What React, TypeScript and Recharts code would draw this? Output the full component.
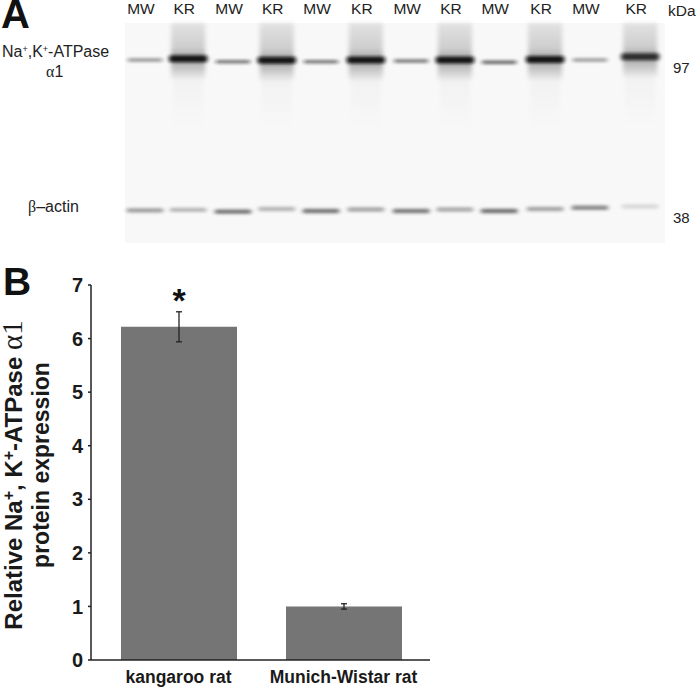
import {
  Bar,
  BarChart,
  CartesianGrid,
  ErrorBar,
  LabelList,
  Scatter,
  ScatterChart,
  XAxis,
  YAxis,
} from 'recharts'

const laneLabels = ['MW', 'KR', 'MW', 'KR', 'MW', 'KR', 'MW', 'KR', 'MW', 'KR', 'MW', 'KR']
const lanePositions = [0.37, 1.17, 2.0, 2.81, 3.63, 4.46, 5.3, 6.11, 6.93, 7.78, 8.61, 9.54]
const alphaMasses = [97, 97.8, 95.9, 96.8, 95.9, 97, 96.4, 97, 95.6, 97.2, 97, 98.9]
const alphaDensity = [0.42, 0.95, 0.55, 0.95, 0.55, 0.95, 0.55, 0.95, 0.62, 0.95, 0.4, 0.8]
const actinMasses = [37.9, 38, 37.6, 38.2, 37.75, 38.1, 37.75, 38.1, 37.75, 38.2, 38.5, 38.8]
const actinDensity = [0.42, 0.3, 0.62, 0.3, 0.6, 0.38, 0.58, 0.36, 0.62, 0.38, 0.52, 0.14]
const massTicks = [97, 38]

const strains = ['kangaroo rat', 'Munich-Wistar rat']
const expression = [6.22, 1.0]
const expressionError = [0.28, 0.05]
const significance = ['*', '']
const expressionTicks = [0, 1, 2, 3, 4, 5, 6, 7]

const ARIAL = '"Liberation Sans", Arial, sans-serif'
const SERIF = '"Liberation Serif", serif'

const blotRows = (masses: number[], density: number[]) =>
  lanePositions.map((lane, i) => ({
    lane,
    mass: masses[i],
    density: density[i],
    label: laneLabels[i],
  }))

const barRows = strains.map((strain, i) => ({
  strain,
  mean: expression[i],
  err: expressionError[i],
  mark: significance[i],
}))

function AlphaBand({ cx, cy, payload }: any) {
  const kr = payload.label === 'KR'
  const w = kr ? 19 : 17.5
  return (
    <g>
      {kr && (
        <>
          <rect x={cx - 17} y={23} width={34} height={cy - 23} fill="url(#smearUp)" filter="url(#soft)" />
          <rect x={cx - 17} y={cy} width={34} height={20} fill="url(#smearDown)" filter="url(#soft)" />
          <rect x={cx - 15} y={cy + 20} width={30} height={50} fill="url(#smearTail)" filter="url(#soft)" />
        </>
      )}
      <rect x={cx - w} y={cy - (kr ? 3.5 : 1.8)} width={2 * w} height={kr ? 7 : 3.6} rx={2} fill="#111" opacity={payload.density} filter="url(#band)" />
    </g>
  )
}

function ActinBand({ cx, cy, payload }: any) {
  return <rect x={cx - 18.5} y={cy - 2.2} width={37} height={4.4} rx={2} fill="#222" opacity={payload.density} filter="url(#band)" />
}

function LaneTick({ x, index }: any) {
  return (
    <text x={x - 4} y={14} textAnchor="middle" fontFamily={ARIAL} fontSize={15.5} fill="#222">
      {laneLabels[index]}
    </text>
  )
}

function MassTick({ x, y, payload }: any) {
  return (
    <text x={x} y={y + 13.5} fontFamily={ARIAL} fontSize={15} fill="#222">
      {payload.value}
    </text>
  )
}

function ExpressionLabel() {
  return (
    <text transform="translate(0 215) rotate(-90)" textAnchor="middle" fontFamily={ARIAL} fontWeight="bold" fill="#1a1a1a">
      <tspan x={0} y={21.7} fontSize={24}>
        Relative Na<tspan fontSize={16} dy={-8}>+</tspan>
        <tspan dy={8}>, K</tspan>
        <tspan fontSize={16} dy={-8}>+</tspan>
        <tspan dy={8}>-ATPase </tspan>
        <tspan fontFamily={SERIF} fontWeight="normal" fontSize={29}>α1</tspan>
      </tspan>
      <tspan x={10} y={48.5} fontSize={23}>protein expression</tspan>
    </text>
  )
}

function Mark({ x, y, width, value }: any) {
  return (
    <text x={x + width / 2} y={y - 15} textAnchor="middle" fontFamily={ARIAL} fontSize={34} fontWeight="bold" fill="#111">
      {value}
    </text>
  )
}

function Note({ left, top, size, bold, children, lineHeight = 1 }: any) {
  return (
    <div
      style={{
        position: 'absolute',
        left,
        top,
        fontFamily: ARIAL,
        fontSize: size,
        fontWeight: bold ? 'bold' : 'normal',
        lineHeight,
        color: bold ? '#111' : '#222',
        whiteSpace: 'nowrap',
      }}
    >
      {children}
    </div>
  )
}

const sup = { fontSize: 9, verticalAlign: 5, lineHeight: 0 }

export default function App() {
  return (
    <div style={{ position: 'absolute', left: 0, top: 0, width: 696, height: 687, background: '#fff', overflow: 'hidden' }}>
      <div style={{ position: 'absolute', left: 0, top: 0 }}>
        <ScatterChart width={696} height={250} margin={{ top: 0, right: 0, bottom: 7, left: 125 }}>
          <defs>
            <filter id="band" x="-20%" y="-200%" width="140%" height="500%">
              <feGaussianBlur stdDeviation="2 1.7" />
            </filter>
            <filter id="soft" x="-20%" y="-20%" width="140%" height="140%">
              <feGaussianBlur stdDeviation="2" />
            </filter>
            <linearGradient id="smearUp" x1="0" y1="0" x2="0" y2="1">
              <stop offset="0" stopColor="#000" stopOpacity={0.09} />
              <stop offset="0.7" stopColor="#000" stopOpacity={0.17} />
              <stop offset="1" stopColor="#000" stopOpacity={0.34} />
            </linearGradient>
            <linearGradient id="smearDown" x1="0" y1="0" x2="0" y2="1">
              <stop offset="0" stopColor="#000" stopOpacity={0.34} />
              <stop offset="1" stopColor="#000" stopOpacity={0.05} />
            </linearGradient>
            <linearGradient id="smearTail" x1="0" y1="0" x2="0" y2="1">
              <stop offset="0" stopColor="#000" stopOpacity={0.025} />
              <stop offset="1" stopColor="#000" stopOpacity={0} />
            </linearGradient>
          </defs>
          <CartesianGrid horizontal={false} vertical={false} fill="#f8f8f8" stroke="none" />
          <XAxis
            type="number"
            dataKey="lane"
            orientation="top"
            domain={[0, 10]}
            ticks={lanePositions}
            interval={0}
            height={23}
            axisLine={false}
            tickLine={false}
            tick={<LaneTick />}
          />
          <YAxis
            type="number"
            dataKey="mass"
            orientation="right"
            scale="log"
            domain={[30.9, 122.2]}
            ticks={massTicks}
            interval={0}
            width={31}
            axisLine={false}
            tickLine={false}
            tick={<MassTick />}
          />
          <Scatter data={blotRows(alphaMasses, alphaDensity)} shape={<AlphaBand />} isAnimationActive={false} />
          <Scatter data={blotRows(actinMasses, actinDensity)} shape={<ActinBand />} isAnimationActive={false} />
        </ScatterChart>
      </div>

      <div style={{ position: 'absolute', left: 0, top: 260 }}>
        <BarChart
          width={696}
          height={427}
          data={barRows}
          barSize={116}
          margin={{ top: 25, right: 266, bottom: 0, left: 0 }}
        >
          <XAxis
            dataKey="strain"
            interval={0}
            height={27}
            padding={{ left: 5, right: 4 }}
            tickLine={false}
            axisLine={{ stroke: '#222', strokeWidth: 1.5 }}
            tick={{ fontFamily: ARIAL, fontSize: 17.5, fontWeight: 'bold', fill: '#1a1a1a' }}
            tickMargin={5}
          />
          <YAxis
            type="number"
            domain={[0, 7]}
            ticks={expressionTicks}
            interval={0}
            width={91}
            tickSize={3}
            tickMargin={5}
            axisLine={{ stroke: '#222', strokeWidth: 1.5 }}
            tickLine={{ stroke: '#222', strokeWidth: 1.5 }}
            tick={{ fontFamily: ARIAL, fontSize: 20, fontWeight: 'bold', fill: '#1a1a1a' }}
            label={<ExpressionLabel />}
          />
          <Bar dataKey="mean" fill="#757575" isAnimationActive={false}>
            <ErrorBar dataKey="err" width={3} stroke="#222" strokeWidth={1.3} isAnimationActive={false} />
            <LabelList dataKey="mark" content={<Mark />} />
          </Bar>
        </BarChart>
      </div>

      <Note left={1} top={0} size={40} bold lineHeight={0.7}>A</Note>
      <Note left={3} top={262} size={39} bold>B</Note>
      <Note left={668} top={3} size={15.5}>kDa</Note>
      <Note left={2} top={44} size={16}>
        Na<sup style={sup}>+</sup>,K<sup style={sup}>+</sup>-ATPase
      </Note>
      <Note left={46} top={64} size={16}>
        <span style={{ fontFamily: SERIF }}>α</span>1
      </Note>
      <Note left={28} top={199} size={16}>
        <span style={{ fontFamily: SERIF }}>β</span>–actin
      </Note>
    </div>
  )
}
